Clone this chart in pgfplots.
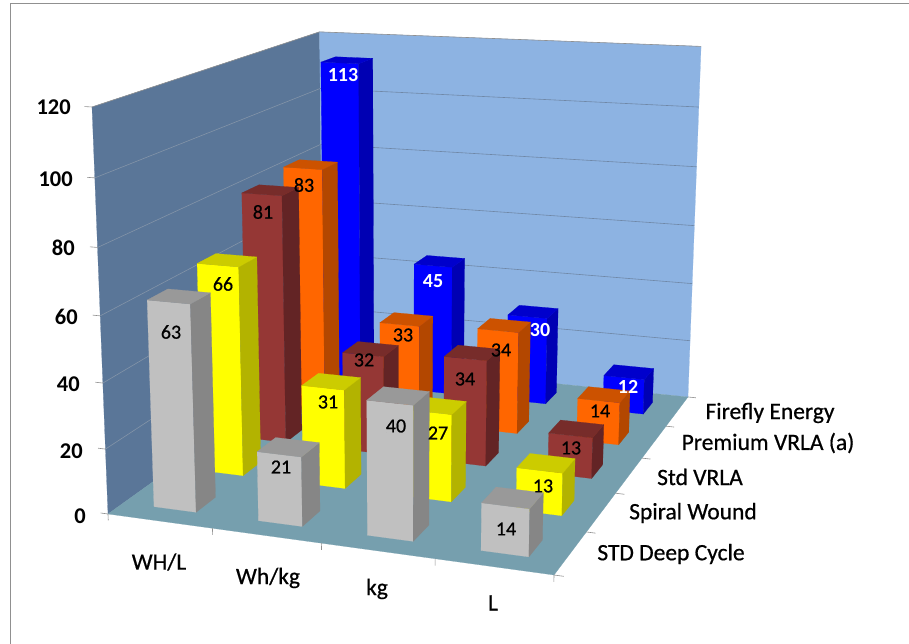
\documentclass[border=0pt]{standalone}
\usepackage{fontspec}
\setmainfont{Carlito}
\newfontfamily\semibold[FakeBold=0.6]{Carlito}
\usepackage{pgfplots}
\usepackage{pgfplotstable}
\pgfplotsset{compat=1.18}

% colours: front, side, top of each series
\definecolor{fireflyfront}{HTML}{0000FF}\definecolor{fireflyside}{HTML}{0000B3}\definecolor{fireflytop}{HTML}{0000CC}
\definecolor{premiumfront}{HTML}{FF6600}\definecolor{premiumside}{HTML}{B34700}\definecolor{premiumtop}{HTML}{CC5200}
\definecolor{stdfront}{HTML}{953735}\definecolor{stdside}{HTML}{632425}\definecolor{stdtop}{HTML}{772C2A}
\definecolor{spiralfront}{HTML}{FFFF00}\definecolor{spiralside}{HTML}{B3B300}\definecolor{spiraltop}{HTML}{CCCC00}
\definecolor{deepfront}{HTML}{C0C0C0}\definecolor{deepside}{HTML}{868686}\definecolor{deeptop}{HTML}{999999}
\definecolor{sidewall}{HTML}{5A7698}
\definecolor{backwall}{HTML}{8DB3E2}
\definecolor{floorcol}{HTML}{769FAE}
\definecolor{gridA}{HTML}{8394A8}
\definecolor{gridB}{HTML}{6F87A6}
\definecolor{tickcol}{HTML}{909090}

% rows: WH/L, Wh/kg, kg, L
\pgfplotstableread{
firefly premium std spiral deep
113 83 81 66 63
45 33 32 31 21
30 34 34 27 40
12 14 13 13 14
}\data

% unit faces of a bar (a along categories, b along series, h along value)
\pgfplotstableread{
a b h
0 0 0
1 0 0
1 0 1
0 0 1
}\frontface
\pgfplotstableread{
a b h
1 0 0
1 1 0
1 1 1
1 0 1
}\sideface
\pgfplotstableread{
a b h
0 0 1
1 0 1
1 1 1
0 1 1
}\topface

% perspective of the chart: X,Y in 0..1, Z is the value
\pgfset{declare function={
  wp(\X,\Y,\Z)=1-0.0824*\X+0.2522*\Y-0.0514*\Z/120;
  up(\X,\Y,\Z)=(108+400.35*\X+296.46*\Y-20.73*\Z/120)/wp(\X,\Y,\Z);
  vp(\X,\Y,\Z)=644-(514+13.62*\X-63.21*\Y-412.5*\Z/120)/wp(\X,\Y,\Z);
}}
\pgfplotsset{
  /pgfplots/table/proj/.style={row sep=crcr,
    x expr={up(\thisrow{X},\thisrow{Y},\thisrow{Z})},
    y expr={vp(\thisrow{X},\thisrow{Y},\thisrow{Z})}},
  /pgfplots/table/barproj/.style={
    x expr={up(\xa+0.102*\thisrow{a},\ya+0.08*\thisrow{b},\val*\thisrow{h})},
    y expr={vp(\xa+0.102*\thisrow{a},\ya+0.08*\thisrow{b},\val*\thisrow{h})}},
  face/.style={draw=#1,line width=0.2pt,fill=#1,forget plot,no markers},
  wallgrid/.style={line width=0.6pt,no markers,forget plot},
}

\newcommand\drawbar[3]{%
  \pgfplotstablegetelem{#1}{#3}\of\data
  \let\val\pgfplotsretval
  \pgfmathsetmacro\xa{(#1+0.5)/4-0.051}
  \pgfmathsetmacro\ya{(#2+0.5)/5-0.04}
  \addplot[face=#3front] table[barproj] {\frontface} --cycle;
  \addplot[face=#3side] table[barproj] {\sideface} --cycle;
  \addplot[face=#3top] table[barproj] {\topface} --cycle;
}
\newcommand\drawseries[2]{\pgfplotsinvokeforeach{0,...,3}{\drawbar{##1}{#2}{#1}}}
\newcommand\gridat[1]{%
  \addplot[wallgrid,color=gridA] table[proj] {X Y Z\\0 0 #1\\0 1 #1\\};
  \addplot[wallgrid,color=gridB] table[proj] {X Y Z\\0 1 #1\\1 1 #1\\};
  \addplot[wallgrid,color=tickcol] table[proj] {X Y Z\\-0.018 0 #1\\0 0 #1\\};
}
% text at a position given in picture pixels, y upwards from the bottom
\newcommand\lab[3]{\node[font=\semibold\fontsize{#1}{#1}\selectfont,text=black] at (axis cs:#2) {#3};}
\newcommand\whitelab[2]{\node[font=\bfseries\fontsize{20}{20}\selectfont,text=white] at (axis cs:#1) {#2};}
\newcommand\ticklab[3]{\node[font=\bfseries\fontsize{22.5}{22.5}\selectfont,anchor=east,inner sep=0pt] at (axis cs:#1,#2) {#3};}

\begin{document}
\begin{tikzpicture}
\useasboundingbox (0,0) rectangle (909pt,644pt);
\begin{axis}[
  at={(0,0)},anchor=south west,
  scale only axis,width=909pt,height=644pt,
  xmin=0,xmax=909,ymin=0,ymax=644,
  hide axis,clip=false,
]
% frame
\addplot[color=tickcol,line width=0.9pt,no markers,forget plot] coordinates {(10,0)(10,640.5)(909,640.5)};

% walls and floor
\addplot[face=sidewall] table[proj] {X Y Z\\0 0 0\\0 1 0\\0 1 120\\0 0 120\\} --cycle;
\addplot[face=backwall] table[proj] {X Y Z\\0 1 0\\1 1 0\\1 1 120\\0 1 120\\} --cycle;
\addplot[face=floorcol] table[proj] {X Y Z\\0 0 0\\1 0 0\\1 1 0\\0 1 0\\} --cycle;

\gridat{20}\gridat{40}\gridat{60}\gridat{80}\gridat{100}
\addplot[wallgrid,color=tickcol] table[proj] {X Y Z\\-0.018 0 120\\0 0 120\\0 1 120\\1 1 120\\};
\addplot[wallgrid,color=tickcol] table[proj] {X Y Z\\-0.018 0 0\\0 0 0\\};

% ticks under the floor
\pgfplotsinvokeforeach{0,0.25,0.5,0.75,1}{
  \addplot[wallgrid,color=tickcol] table[proj] {X Y Z\\#1 0 0\\#1 0 -2\\};
}
\pgfplotsinvokeforeach{0,0.2,0.4,0.6,0.8,1}{
  \addplot[wallgrid,color=tickcol] table[proj] {X Y Z\\1 #1 0\\1.02 #1 0\\};
}

% bars, back row first
\drawseries{firefly}{4}
\drawseries{premium}{3}
\drawseries{std}{2}
\drawseries{spiral}{1}
\drawseries{deep}{0}

% value axis labels
\ticklab{71}{537}{120}
\ticklab{73}{465}{100}
\ticklab{75}{396}{80}
\ticklab{78}{327}{60}
\ticklab{80}{260}{40}
\ticklab{83}{193}{20}
\ticklab{86}{128}{0}

% category labels
\lab{23.5}{159,82}{WH/L}
\lab{23.5}{268,66}{Wh/kg}
\lab{23.5}{377,55}{kg}
\lab{23.5}{493,41}{L}

% series labels
\lab{23.5}{770,231}{Firefly Energy}
\lab{23.5}{768,201}{Premium VRLA (a)}
\lab{23.5}{700,167}{Std VRLA}
\lab{23.5}{693,131}{Spiral Wound}
\lab{23.5}{671,90}{STD Deep Cycle}

% bar labels
\whitelab{343,569}{113}
\whitelab{433,363}{45}
\whitelab{540,314}{30}
\whitelab{628,257}{12}
\lab{20}{304,459}{83}
\lab{20}{403,309}{33}
\lab{20}{501,294}{34}
\lab{20}{600,233}{14}
\lab{20}{263,432}{81}
\lab{20}{364,284}{32}
\lab{20}{465,265}{34}
\lab{20}{571,196}{13}
\lab{20}{223,360}{66}
\lab{20}{328,242}{31}
\lab{20}{438,211}{27}
\lab{20}{543,158}{13}
\lab{20}{171,312}{63}
\lab{20}{281,177}{21}
\lab{20}{396,218}{40}
\lab{20}{506,115}{14}
\end{axis}
\end{tikzpicture}
\end{document}
